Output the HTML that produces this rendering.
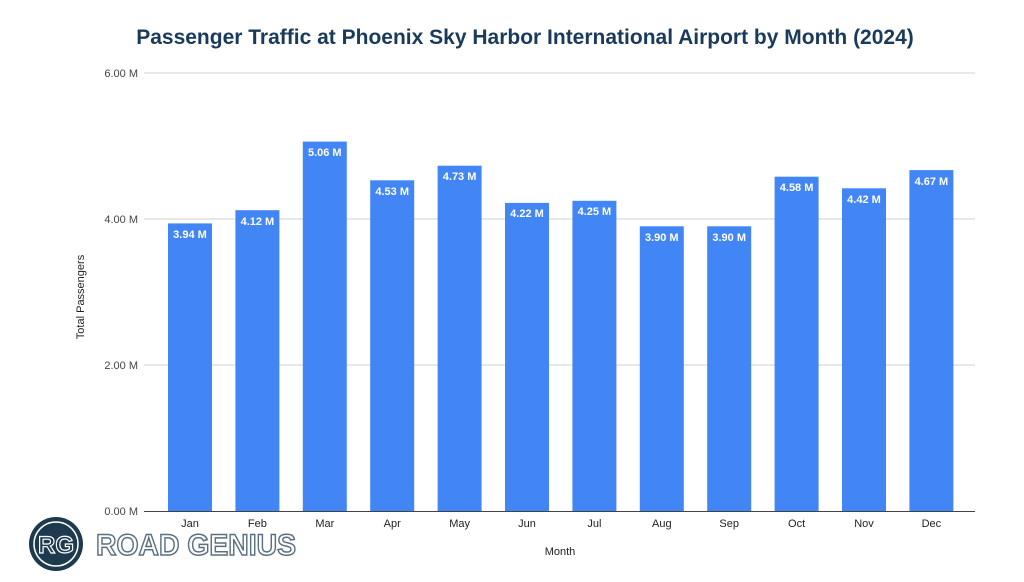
<!DOCTYPE html>
<html><head><style>
body{margin:0;background:#fff;}
svg{display:block;font-family:"Liberation Sans",Arial,sans-serif;}
</style></head><body>
<svg width="1024" height="582" viewBox="0 0 1024 582">
<text x="525" y="44" text-anchor="middle" font-size="21" font-weight="bold" fill="#1a3a5c">Passenger Traffic at Phoenix Sky Harbor International Airport by Month (2024)</text>
<g stroke="#d0d0d0" stroke-width="1">
<line x1="144" y1="73" x2="975" y2="73"/>
<line x1="144" y1="219" x2="975" y2="219"/>
<line x1="144" y1="365" x2="975" y2="365"/>
</g>
<g font-size="11" fill="#444" text-anchor="end">
<text x="138" y="77">6.00 M</text>
<text x="138" y="223">4.00 M</text>
<text x="138" y="369">2.00 M</text>
<text x="138" y="515">0.00 M</text>
</g>
<text transform="translate(84,297) rotate(-90)" text-anchor="middle" font-size="11" fill="#222">Total Passengers</text>
<text x="560" y="555" text-anchor="middle" font-size="11" fill="#222">Month</text>
<g fill="#4285f4">
<rect x="168" y="223.4" width="44" height="287.6"/>
<rect x="235.4" y="210.2" width="44" height="300.8"/>
<rect x="302.8" y="141.6" width="44" height="369.4"/>
<rect x="370.2" y="180.3" width="44" height="330.7"/>
<rect x="437.6" y="165.7" width="44" height="345.3"/>
<rect x="505" y="202.9" width="44" height="308.1"/>
<rect x="572.4" y="200.8" width="44" height="310.2"/>
<rect x="639.8" y="226.3" width="44" height="284.7"/>
<rect x="707.2" y="226.3" width="44" height="284.7"/>
<rect x="774.6" y="176.7" width="44" height="334.3"/>
<rect x="842" y="188.3" width="44" height="322.7"/>
<rect x="909.4" y="170.1" width="44" height="340.9"/>
</g>
<line x1="144" y1="511.5" x2="975" y2="511.5" stroke="#444" stroke-width="1"/>
<g font-size="11" font-weight="bold" fill="#fff" text-anchor="middle">
<text x="190" y="238">3.94 M</text>
<text x="257.4" y="225">4.12 M</text>
<text x="324.8" y="156">5.06 M</text>
<text x="392.2" y="195">4.53 M</text>
<text x="459.6" y="180">4.73 M</text>
<text x="527" y="217">4.22 M</text>
<text x="594.4" y="215">4.25 M</text>
<text x="661.8" y="241">3.90 M</text>
<text x="729.2" y="241">3.90 M</text>
<text x="796.6" y="191">4.58 M</text>
<text x="864" y="203">4.42 M</text>
<text x="931.4" y="185">4.67 M</text>
</g>
<g font-size="11" fill="#222" text-anchor="middle">
<text x="190" y="527">Jan</text>
<text x="257.4" y="527">Feb</text>
<text x="324.8" y="527">Mar</text>
<text x="392.2" y="527">Apr</text>
<text x="459.6" y="527">May</text>
<text x="527" y="527">Jun</text>
<text x="594.4" y="527">Jul</text>
<text x="661.8" y="527">Aug</text>
<text x="729.2" y="527">Sep</text>
<text x="796.6" y="527">Oct</text>
<text x="864" y="527">Nov</text>
<text x="931.4" y="527">Dec</text>
</g>
<g transform="translate(56,544)">
<circle r="27" fill="#1d3a4f"/>
<circle r="22" fill="none" stroke="#fff" stroke-width="1.5"/>
<text x="0" y="9" text-anchor="middle" font-size="24" font-weight="bold" fill="#1d3a4f" stroke="#fff" stroke-width="1.2">RG</text>
</g>
<text x="96" y="555" font-size="30" font-weight="bold" fill="#fff" stroke="#5a6f80" stroke-width="1.5" textLength="200" lengthAdjust="spacingAndGlyphs">ROAD GENIUS</text>
</svg>
</body></html>
